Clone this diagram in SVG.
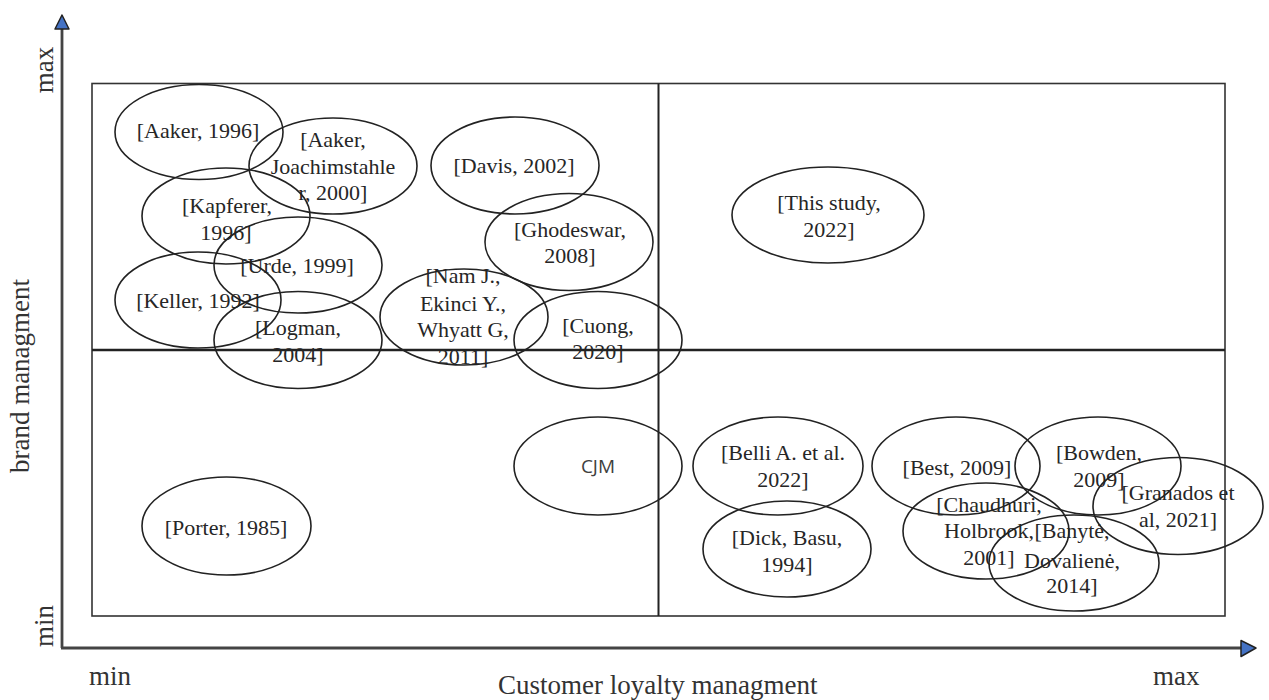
<svg xmlns="http://www.w3.org/2000/svg" width="1269" height="700" viewBox="0 0 1269 700">
<style>
.bg{fill:#ffffff}
.frame{fill:none;stroke:#333;stroke-width:1.6}
.hdiv{stroke:#222;stroke-width:2.6}
.vdiv{stroke:#222;stroke-width:2}
.axis{stroke:#444;stroke-width:2.8}
.arrow{fill:#4472c4;stroke:#222;stroke-width:1.5;stroke-linejoin:round}
.node ellipse{fill:none;stroke:#222;stroke-width:1.6}
.node text{font-family:"Liberation Serif","Times New Roman",serif;font-size:22px;fill:#262626;text-anchor:middle}
.cjm text{font-family:"Open Sans","Liberation Sans",sans-serif;font-size:19px;fill:#404040;text-anchor:middle}
.ax{font-family:"Liberation Serif","Times New Roman",serif;font-size:27px;fill:#333}
</style>
<rect class="bg" x="0" y="0" width="1269" height="700"/>
<g id="axes">
<line class="axis" x1="62" y1="27" x2="62" y2="648"/>
<line class="axis" x1="61" y1="648" x2="1242" y2="648"/>
<polygon class="arrow" points="62,15 55,29 69,29"/>
<polygon class="arrow" points="1256,648 1241,640.5 1241,656.5"/>
<text class="ax" transform="translate(53,70) rotate(-90)" text-anchor="middle">max</text>
<text class="ax" transform="translate(53,626) rotate(-90)" text-anchor="middle">min</text>
<text class="ax" transform="translate(29,376) rotate(-90)" text-anchor="middle">brand managment</text>
<text class="ax" x="89" y="685">min</text>
<text class="ax" x="1153" y="685">max</text>
<text class="ax" x="498" y="694">Customer loyalty managment</text>
</g>
<g id="quadrants">
<rect class="frame" x="92" y="83.5" width="1133" height="532.5"/>
<line class="vdiv" x1="658.5" y1="83.5" x2="658.5" y2="616"/>
<line class="hdiv" x1="92" y1="350" x2="1225" y2="350"/>
</g>
<g id="connectors"></g>
<g id="n-aaker1996" class="node"><ellipse cx="199" cy="132" rx="84" ry="47.5"/><text x="198" y="138">[Aaker, 1996]</text></g>
<g id="n-aaker2000" class="node"><ellipse cx="333" cy="166" rx="84" ry="48"/><text x="333" y="147">[Aaker,</text><text x="333" y="174">Joachimstahle</text><text x="333" y="200">r, 2000]</text></g>
<g id="n-davis" class="node"><ellipse cx="515" cy="165.5" rx="84" ry="48.5"/><text x="514" y="173">[Davis, 2002]</text></g>
<g id="n-kapferer" class="node"><ellipse cx="226" cy="216" rx="84" ry="48"/><text x="227" y="213">[Kapferer,</text><text x="226" y="240">1996]</text></g>
<g id="n-urde" class="node"><ellipse cx="298" cy="265" rx="84" ry="48"/><text x="297" y="273">[Urde, 1999]</text></g>
<g id="n-ghodeswar" class="node"><ellipse cx="569" cy="242" rx="84" ry="48.5"/><text x="570" y="237">[Ghodeswar,</text><text x="570" y="263">2008]</text></g>
<g id="n-keller" class="node"><ellipse cx="198" cy="300" rx="83" ry="48"/><text x="198" y="308">[Keller, 1992]</text></g>
<g id="n-logman" class="node"><ellipse cx="298" cy="340" rx="84" ry="48.5"/><text x="298" y="335">[Logman,</text><text x="298" y="362">2004]</text></g>
<g id="n-nam" class="node"><ellipse cx="464" cy="317" rx="84" ry="48"/><text x="463" y="283">[Nam J.,</text><text x="463" y="311">Ekinci Y.,</text><text x="463" y="337">Whyatt G,</text><text x="463" y="364">2011]</text></g>
<g id="n-cuong" class="node"><ellipse cx="598" cy="340" rx="84" ry="48.5"/><text x="598" y="333">[Cuong,</text><text x="598" y="359">2020]</text></g>
<g id="n-thisstudy" class="node"><ellipse cx="828" cy="215" rx="96" ry="48"/><text x="829" y="210">[This study,</text><text x="829" y="237">2022]</text></g>
<g id="n-porter" class="node"><ellipse cx="226.5" cy="526" rx="84.5" ry="49"/><text x="226" y="535">[Porter, 1985]</text></g>
<g id="n-cjm" class="node cjm"><ellipse cx="598" cy="466" rx="84" ry="49"/><text x="598" y="473">CJM</text></g>
<g id="n-belli" class="node"><ellipse cx="778" cy="466" rx="85" ry="49"/><text x="783" y="460">[Belli A. et al.</text><text x="783" y="487">2022]</text></g>
<g id="n-dick" class="node"><ellipse cx="787" cy="549" rx="84" ry="48"/><text x="787" y="545">[Dick, Basu,</text><text x="787" y="572">1994]</text></g>
<g id="n-best" class="node"><ellipse cx="956" cy="466" rx="84" ry="49"/><text x="957" y="475">[Best, 2009]</text></g>
<g id="n-bowden" class="node"><ellipse cx="1098" cy="466" rx="83" ry="49"/><text x="1099" y="460">[Bowden,</text><text x="1099" y="487">2009]</text></g>
<g id="n-granados" class="node"><ellipse cx="1178" cy="506" rx="85" ry="48.5"/><text x="1178" y="500">[Granados et</text><text x="1178" y="527">al, 2021]</text></g>
<g id="n-chaudhuri" class="node"><ellipse cx="986" cy="531" rx="83" ry="48"/><text x="989" y="512">[Chaudhuri,</text><text x="989" y="538">Holbrook,</text><text x="989" y="565">2001]</text></g>
<g id="n-banyte" class="node"><ellipse cx="1074" cy="563" rx="85" ry="48"/><text x="1072" y="538">[Banytė,</text><text x="1072" y="568">Dovalienė,</text><text x="1072" y="593">2014]</text></g>
</svg>
